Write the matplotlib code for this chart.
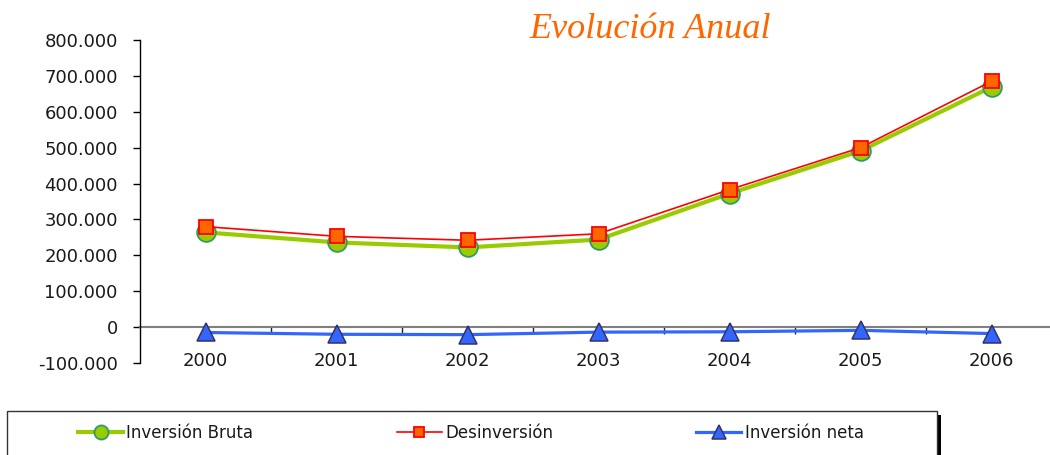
import matplotlib
matplotlib.use("Agg")
import matplotlib.pyplot as plt
from matplotlib.patches import Rectangle
from matplotlib.ticker import FuncFormatter, FixedLocator

years = ["2000", "2001", "2002", "2003", "2004", "2005", "2006"]
inversion_bruta = [264000, 236000, 222000, 244000, 372000, 491000, 669000]
desinversion = [280000, 253000, 242000, 260000, 383000, 500000, 685000]
inversion_neta = [-15000, -20000, -21000, -14000, -13000, -9000, -18000]
y_ticks = [-100000, 0, 100000, 200000, 300000, 400000, 500000, 600000, 700000, 800000]

W, H = 1050, 455
fig = plt.figure(figsize=(W / 100, H / 100), dpi=100)
plt.rcParams['font.family'] = ['DejaVu Sans']
txt_color = '#1a1a1a'

ax = fig.add_axes([140 / W, 1 - 363 / H, 910 / W, (363 - 40) / H])
x = list(range(len(years)))

ax.plot(x, inversion_bruta, color='#99CC00', lw=3, marker='o', ms=13.5,
        mfc='#99CC00', mec='#339966', mew=1.3, label='Inversión Bruta', zorder=3)
ax.plot(x, desinversion, color='#FF0000', lw=1.2, marker='s', ms=10,
        mfc='#FF6600', mec='#FF0000', mew=1.3, label='Desinversión', zorder=4)
ax.plot(x, inversion_neta, color='#3366FF', lw=2.3, marker='^', ms=12.5,
        mfc='#3366FF', mec='#333366', mew=1.1, label='Inversión neta', zorder=3)

ax.set_xlim(-0.5, -0.5 + 910 / 131)
ax.set_ylim(-100000, 800000)

for s in ['top', 'right']:
    ax.spines[s].set_visible(False)
ax.spines['left'].set_color('#000000')
ax.spines['left'].set_linewidth(1.0)
ax.spines['bottom'].set_position(('data', 0))
ax.spines['bottom'].set_color('#808080')
ax.spines['bottom'].set_linewidth(1.5)
ax.spines['bottom'].set_zorder(2)

ax.set_yticks(y_ticks)
ax.yaxis.set_major_formatter(FuncFormatter(
    lambda v, p: '0' if v == 0 else ('-' if v < 0 else '') + f"{abs(int(v)):,}".replace(',', '.')))
ax.tick_params(axis='y', direction='out', length=5, width=1, color='#000000',
               labelsize=13, labelcolor=txt_color, pad=11)

ax.set_xticks(x)
ax.set_xticklabels(years)
ax.xaxis.set_minor_locator(FixedLocator([i + 0.5 for i in x]))
ax.tick_params(axis='x', which='major', length=0, labelsize=13, labelcolor=txt_color, pad=18)
ax.tick_params(axis='x', which='minor', direction='out', length=5, width=1, color='#222222')

fig.text(650 / W, 1 - 30 / H, 'Evolución Anual', ha='center', va='center',
         fontsize=26, style='italic', family='Liberation Serif', color='#FF6600')

# legend frame with shadow
fig.patches.append(Rectangle((11 / W, -0.1), 930 / W, 0.1 + (455 - 415) / H,
                             transform=fig.transFigure, facecolor='#000000',
                             edgecolor='none', zorder=0))
fig.patches.append(Rectangle((7 / W, -0.1), 930 / W, 0.1 + (455 - 411) / H,
                             transform=fig.transFigure, facecolor='white',
                             edgecolor='#333333', lw=1.0, zorder=1))

leg = fig.legend(loc='center left', bbox_to_anchor=(78 / W, 1 - 433 / H), ncol=3,
                 frameon=False, borderpad=0, borderaxespad=0, fontsize=12,
                 handlelength=2.7, handletextpad=0.2, columnspacing=8.6,
                 markerscale=0.75, labelcolor=txt_color)
leg.set_zorder(5)

fig.savefig('out.png', dpi=100)
